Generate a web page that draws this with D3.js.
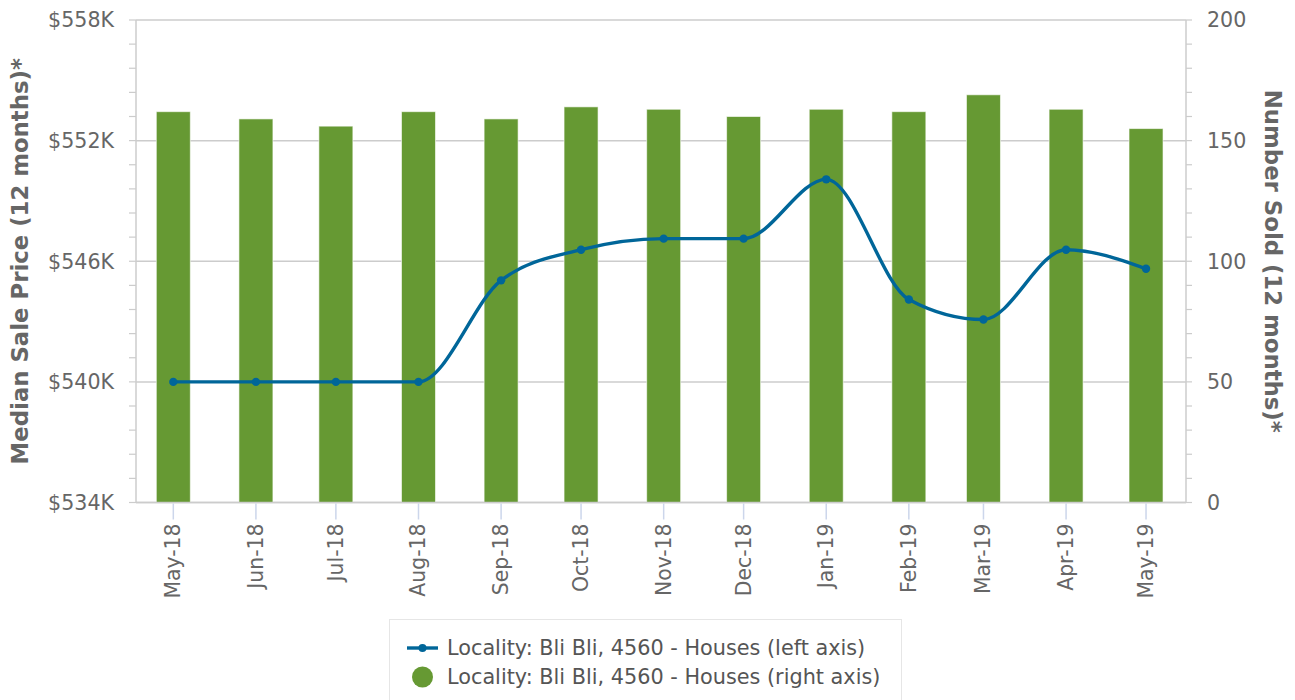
<!DOCTYPE html>
<html>
<head>
<meta charset="utf-8">
<script src="https://cdn.jsdelivr.net/npm/d3@7/dist/d3.min.js"></script>
<style>
  html, body { margin: 0; padding: 0; background: #fff; }
  svg { display: block; font-family: "DejaVu Sans", Verdana, sans-serif; }
</style>
</head>
<body>
<svg id="chart" width="1295" height="700"></svg>
<script>
// ---- data ----
const months = ["2018-05-01","2018-06-01","2018-07-01","2018-08-01","2018-09-01","2018-10-01","2018-11-01","2018-12-01","2019-01-01","2019-02-01","2019-03-01","2019-04-01","2019-05-01"];
const monthLabels = ["May-18","Jun-18","Jul-18","Aug-18","Sep-18","Oct-18","Nov-18","Dec-18","Jan-19","Feb-19","Mar-19","Apr-19","May-19"];
const medianPrice = [540000,540000,540000,540000,545050,546575,547125,547125,550075,544100,543100,546575,545625];
const numberSold = [162,159,156,162,159,164,163,160,163,162,169,163,155];
const leftTicks = [534000,540000,546000,552000,558000];
const rightTicks = [0,50,100,150,200];
const seriesName = "Locality: Bli Bli, 4560 - Houses";

// ---- layout ----
const W = 1295, H = 700;
const plot = {left: 136, right: 1186, top: 20, bottom: 502.5};
const DAY = 86400000;
const parse = d3.utcParse("%Y-%m-%d");
const dates = months.map(parse);

const svg = d3.select("#chart");

const x = d3.scaleUtc()
  .domain([new Date(dates[0].getTime() - 14 * DAY), new Date(dates[dates.length - 1].getTime() + 15 * DAY)])
  .range([plot.left, plot.right]);
const yL = d3.scaleLinear().domain([534000, 558000]).range([plot.bottom, plot.top]);
const yR = d3.scaleLinear().domain([0, 200]).range([plot.bottom, plot.top]);

const gridColor = "#cccccc";
const labelColor = "#666666";

// gridlines
svg.append("g").selectAll("line").data(leftTicks).join("line")
  .attr("x1", plot.left).attr("x2", plot.right)
  .attr("y1", d => yL(d)).attr("y2", d => yL(d))
  .attr("stroke", gridColor).attr("stroke-width", 1.5);

// minor ticks (left & right)
const minorL = d3.range(534000, 558001, 1200);
svg.append("g").selectAll("line").data(minorL).join("line")
  .attr("x1", plot.left - 7).attr("x2", plot.left)
  .attr("y1", d => yL(d)).attr("y2", d => yL(d))
  .attr("stroke", gridColor).attr("stroke-width", 1.2);
const minorR = d3.range(0, 201, 10);
svg.append("g").selectAll("line").data(minorR).join("line")
  .attr("x1", plot.right).attr("x2", plot.right + 6)
  .attr("y1", d => yR(d)).attr("y2", d => yR(d))
  .attr("stroke", gridColor).attr("stroke-width", 1.2);

// axis lines
svg.append("line").attr("x1", plot.left).attr("x2", plot.left).attr("y1", plot.top).attr("y2", plot.bottom)
  .attr("stroke", gridColor).attr("stroke-width", 1.5);
svg.append("line").attr("x1", plot.right).attr("x2", plot.right).attr("y1", plot.top).attr("y2", plot.bottom)
  .attr("stroke", gridColor).attr("stroke-width", 1.5);

// bars
const barW = 34;
svg.append("g").selectAll("rect").data(numberSold).join("rect")
  .attr("x", (d, i) => x(dates[i]) - barW / 2)
  .attr("width", barW)
  .attr("y", d => yR(d))
  .attr("height", d => yR(0) - yR(d))
  .attr("fill", "#669933")
  .attr("stroke", "#ffffff").attr("stroke-width", 1).attr("stroke-opacity", 0.6);

// bottom axis line
svg.append("line").attr("x1", plot.left).attr("x2", plot.right).attr("y1", plot.bottom).attr("y2", plot.bottom)
  .attr("stroke", gridColor).attr("stroke-width", 1.5);

// x ticks & labels
const gx = svg.append("g");
gx.selectAll("line").data(dates).join("line")
  .attr("x1", d => x(d)).attr("x2", d => x(d))
  .attr("y1", plot.bottom + 1).attr("y2", plot.bottom + 17)
  .attr("stroke", "#ccd6eb").attr("stroke-width", 1.5);
gx.selectAll("text").data(dates).join("text")
  .attr("transform", d => `translate(${x(d) + 7},${plot.bottom + 21}) rotate(-90)`)
  .attr("text-anchor", "end")
  .attr("font-size", 20.4)
  .attr("fill", labelColor)
  .text((d, i) => monthLabels[i]);

// left tick labels
svg.append("g").selectAll("text").data(leftTicks).join("text")
  .attr("x", 114).attr("y", d => yL(d)).attr("dy", "0.36em")
  .attr("text-anchor", "end")
  .attr("font-size", 20.6)
  .attr("fill", labelColor)
  .text(d => "$" + d3.format("d")(d / 1000) + "K");

// right tick labels
svg.append("g").selectAll("text").data(rightTicks).join("text")
  .attr("x", 1207).attr("y", d => yR(d)).attr("dy", "0.36em")
  .attr("text-anchor", "start")
  .attr("font-size", 20.6)
  .attr("fill", labelColor)
  .text(d => d);

// axis titles
svg.append("text")
  .attr("transform", `translate(28,${(plot.top + plot.bottom) / 2}) rotate(-90)`)
  .attr("text-anchor", "middle")
  .attr("font-size", 22.8).attr("font-weight", "bold")
  .attr("fill", labelColor)
  .text("Median Sale Price (12 months)*");
svg.append("text")
  .attr("transform", `translate(1265,${(plot.top + plot.bottom) / 2}) rotate(90)`)
  .attr("text-anchor", "middle")
  .attr("font-size", 22.8).attr("font-weight", "bold")
  .attr("fill", labelColor)
  .text("Number Sold (12 months)*");

// line series
const lineColor = "#006699";
const line = d3.line()
  .x((d, i) => x(dates[i]))
  .y(d => yL(d))
  .curve(d3.curveMonotoneX);
svg.append("path").datum(medianPrice)
  .attr("d", line)
  .attr("fill", "none")
  .attr("stroke", lineColor).attr("stroke-width", 3.4);
svg.append("g").selectAll("circle").data(medianPrice).join("circle")
  .attr("cx", (d, i) => x(dates[i])).attr("cy", d => yL(d))
  .attr("r", 4.2).attr("fill", lineColor);

// legend
const lg = svg.append("g");
lg.append("rect").attr("x", 389.5).attr("y", 619.5).attr("width", 512).attr("height", 100)
  .attr("fill", "#fff").attr("stroke", "#e6e6e6").attr("stroke-width", 1);
lg.append("line").attr("x1", 407).attr("x2", 438).attr("y1", 648).attr("y2", 648)
  .attr("stroke", lineColor).attr("stroke-width", 3.4);
lg.append("circle").attr("cx", 422.5).attr("cy", 648).attr("r", 4).attr("fill", lineColor);
lg.append("text").attr("x", 447).attr("y", 648).attr("dy", "0.36em")
  .attr("font-size", 20.8).attr("fill", "#555")
  .text(seriesName + " (left axis)");
lg.append("circle").attr("cx", 422.5).attr("cy", 677).attr("r", 10.5).attr("fill", "#669933");
lg.append("text").attr("x", 447).attr("y", 677).attr("dy", "0.36em")
  .attr("font-size", 20.8).attr("fill", "#555")
  .text(seriesName + " (right axis)");
</script>
</body>
</html>
